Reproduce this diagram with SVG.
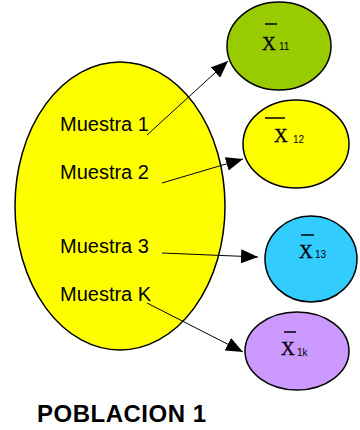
<svg xmlns="http://www.w3.org/2000/svg" width="360" height="430" viewBox="0 0 360 430">
<style>
.el{stroke:#000;stroke-width:1.5}
.lbl{font-family:"Liberation Sans",Arial,sans-serif;font-size:20px;fill:#000}
.x{font-family:"Liberation Serif","Times New Roman",serif;font-size:19px;fill:#000;stroke:#000;stroke-width:0.3}
.sub{font-family:"Liberation Sans",Arial,sans-serif;font-size:10px;fill:#000}
.ov{stroke:#000;stroke-width:1.5}
.con{stroke:#000;stroke-width:1;fill:none;marker-end:url(#ah)}
.title{font-family:"Liberation Sans",Arial,sans-serif;font-size:24px;font-weight:bold;fill:#000;letter-spacing:0.5px}
</style>
<defs>
<marker id="ah" markerUnits="userSpaceOnUse" markerWidth="18" markerHeight="14" refX="17" refY="7" orient="auto">
<path d="M0,0 L17,7 L0,14 Z" fill="#000"/>
</marker>
</defs>
<g id="poblacion">
<ellipse class="el" cx="120" cy="206" rx="105" ry="144" fill="#ffff00"/>
<text class="lbl" x="60" y="131">Muestra 1</text>
<text class="lbl" x="60" y="179">Muestra 2</text>
<text class="lbl" x="60" y="253">Muestra 3</text>
<text class="lbl" x="60" y="301">Muestra K</text>
</g>
<g id="x11">
<ellipse class="el" cx="279" cy="46" rx="52" ry="44" fill="#99cc00"/>
<line class="ov" x1="265" y1="24" x2="277" y2="24"/>
<text class="x" x="262" y="50">X</text>
<text class="sub" x="279" y="50">11</text>
</g>
<g id="x12">
<ellipse class="el" cx="296" cy="144" rx="53" ry="44" fill="#ffff00"/>
<line class="ov" x1="265" y1="118" x2="285" y2="118"/>
<text class="x" x="274" y="142">X</text>
<text class="sub" x="293" y="143">12</text>
</g>
<g id="x13">
<ellipse class="el" cx="311" cy="259" rx="46" ry="43" fill="#33ccff"/>
<line class="ov" x1="301" y1="235" x2="314" y2="235"/>
<text class="x" x="299" y="258">X</text>
<text class="sub" x="315" y="258">13</text>
</g>
<g id="x1k">
<ellipse class="el" cx="297" cy="351" rx="52" ry="39" fill="#cc99ff"/>
<line class="ov" x1="284" y1="332" x2="296" y2="332"/>
<text class="x" x="281" y="355">X</text>
<text class="sub" x="297" y="356">1k</text>
</g>
<g id="connectors">
<line class="con" x1="147" y1="135" x2="228" y2="61"/>
<line class="con" x1="162" y1="183" x2="243" y2="159"/>
<line class="con" x1="162" y1="253" x2="258" y2="257"/>
<line class="con" x1="147" y1="303" x2="243" y2="352"/>
</g>
<text class="title" x="37" y="422">POBLACION 1</text>
</svg>
